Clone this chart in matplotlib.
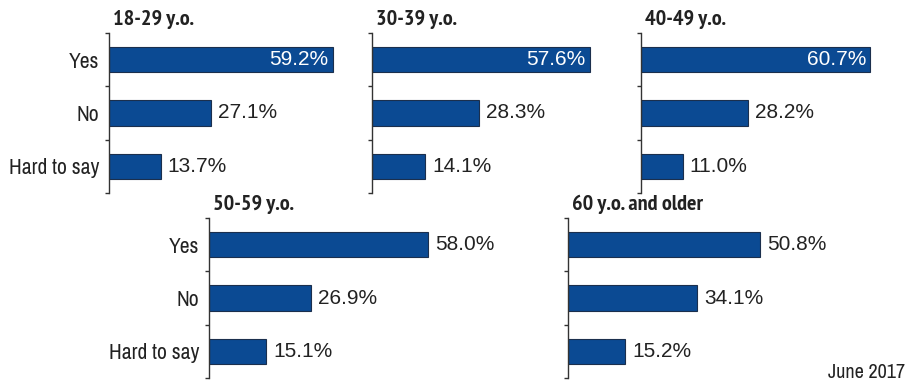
import matplotlib
matplotlib.use("Agg")
import matplotlib.pyplot as plt
import numpy as np
from matplotlib import font_manager

groups = ["18-29 y.o.", "30-39 y.o.", "40-49 y.o.", "50-59 y.o.", "60 y.o. and older"]
answers = ["Yes", "No", "Hard to say"]
yes = [59.2, 57.6, 60.7, 58.0, 50.8]
no = [27.1, 28.3, 28.2, 26.9, 34.1]
hard = [13.7, 14.1, 11.0, 15.1, 15.2]
note = "June 2017"

W, H = 915, 382
BLUE = "#0b4a93"
TEXT = "#222222"

NARROW_NAMES = ["Liberation Sans Narrow", "Arial Narrow", "Archivo Narrow", "PT Sans Narrow",
                "Roboto Condensed", "IBM Plex Sans Condensed", "Fira Sans Condensed",
                "Barlow Condensed", "Encode Sans Condensed", "Sofia Sans Condensed"]


def pick(names, min_weight=0):
    fonts = font_manager.fontManager.ttflist
    for n in names:
        if any(f.name == n and f.weight >= min_weight for f in fonts):
            return [n, "DejaVu Sans"]
    return ["DejaVu Sans"]


NARROW = pick(NARROW_NAMES)
NARROW_BOLD = pick(NARROW_NAMES, 700)
PLAIN = pick(["Liberation Sans", "Arimo", "Arial", "Helvetica"])

# panel layout in pixels: left spine x, top y, bottom y, labels on axis, yes label inside
panels = [
    (109, 33, 193, True, True),
    (372, 33, 193, False, True),
    (641, 33, 193, False, True),
    (209, 218, 378, True, False),
    (568, 218, 378, False, False),
]
XMAX = 66
PX_PER_UNIT = 3.78

fig = plt.figure(figsize=(W / 100, H / 100), dpi=100)

for i, (x0, top, bot, show_labels, yes_inside) in enumerate(panels):
    w = XMAX * PX_PER_UNIT
    ax = fig.add_axes([x0 / W, 1 - bot / H, w / W, (bot - top) / H])
    vals = [yes[i], no[i], hard[i]]
    pos = np.arange(len(answers))
    ax.barh(pos, vals, height=0.48, color=BLUE, edgecolor="#1b2f4d", linewidth=0.8)
    ax.set_xlim(0, XMAX)
    ax.set_ylim(2.5, -0.5)
    for s in ["top", "right", "bottom"]:
        ax.spines[s].set_visible(False)
    ax.spines["left"].set_color("#333333")
    ax.spines["left"].set_linewidth(1.0)
    ax.set_xticks([])
    ax.set_yticks(pos)
    ax.set_yticks([-0.5, 0.5, 1.5, 2.5], minor=True)
    ax.tick_params(axis="y", which="major", length=0, pad=7)
    ax.tick_params(axis="y", which="minor", length=3, width=1.0, color="#333333")
    if show_labels:
        ax.set_yticklabels(answers, family=NARROW, fontsize=15.5, color=TEXT)
    else:
        ax.set_yticklabels([])
    ax.patch.set_alpha(0)

    for k, v in enumerate(vals):
        txt = f"{v:.1f}%"
        if k == 0 and yes_inside:
            ax.annotate(txt, (v, k), xytext=(-3, 0), textcoords="offset points",
                        ha="right", va="center", color="white", fontsize=15, family=PLAIN)
        else:
            ax.annotate(txt, (v, k), xytext=(5, 0), textcoords="offset points",
                        ha="left", va="center", color=TEXT, fontsize=15, family=PLAIN)

    fig.text((x0 + 4) / W, 1 - (top - 8) / H, groups[i], ha="left", va="baseline",
             fontsize=16, fontweight="bold", family=NARROW_BOLD, color=TEXT)

fig.text(905 / W, 1 - 378 / H, note, ha="right", va="baseline",
         fontsize=14.5, family=NARROW, color=TEXT)

fig.savefig("out.png", dpi=100)
